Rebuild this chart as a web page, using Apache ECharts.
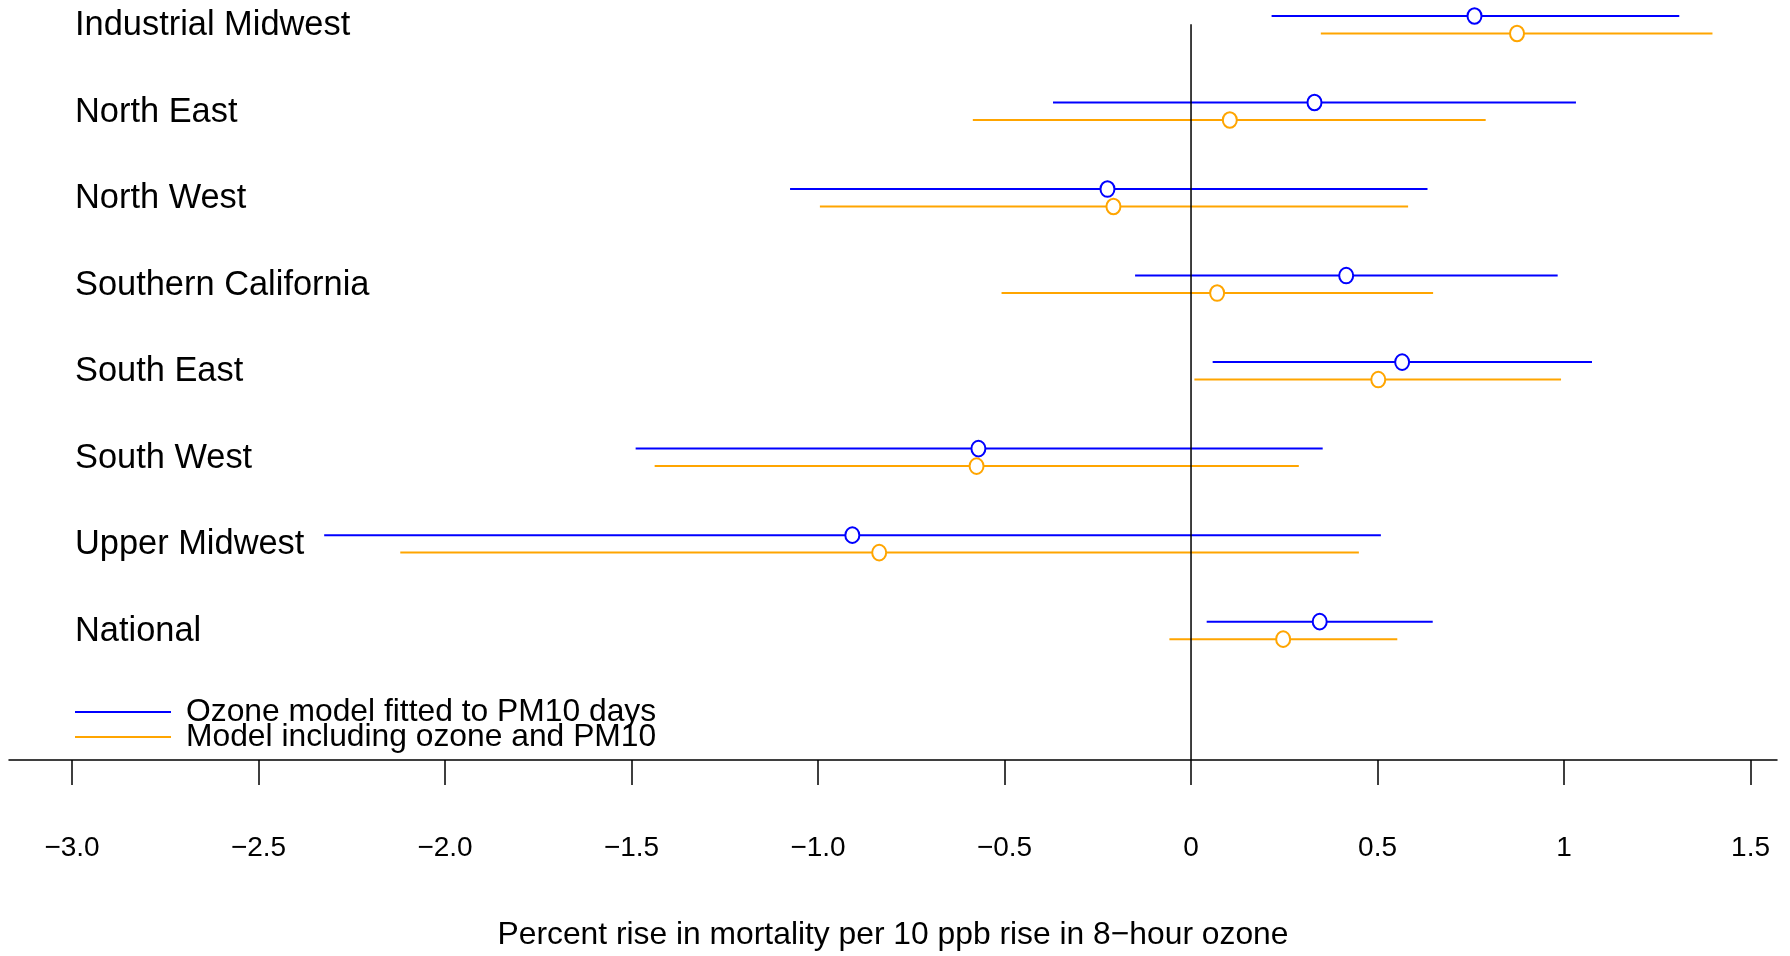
<!DOCTYPE html>
<html><head><meta charset="utf-8">
<script src="https://cdn.jsdelivr.net/npm/echarts@6/dist/echarts.min.js"></script>
<style>html,body{margin:0;padding:0;background:#fff}#c{width:1790px;height:956px}</style>
</head><body><div id="c"></div>
<script>
// ---- data ----
const regions = ['Industrial Midwest','North East','North West','Southern California','South East','South West','Upper Midwest','National'];
const ozoneEst  = [0.760, 0.331, -0.224, 0.416, 0.566, -0.570, -0.908, 0.345];
const ozoneLow  = [0.216, -0.370, -1.075, -0.150, 0.058, -1.489, -2.324, 0.042];
const ozoneHigh = [1.309, 1.032, 0.634, 0.983, 1.075, 0.353, 0.509, 0.648];
const pmEst  = [0.874, 0.104, -0.208, 0.070, 0.502, -0.575, -0.836, 0.247];
const pmLow  = [0.348, -0.585, -0.995, -0.508, 0.009, -1.438, -2.120, -0.058];
const pmHigh = [1.398, 0.790, 0.582, 0.649, 0.992, 0.289, 0.450, 0.553];
const tickValues = [-3, -2.5, -2, -1.5, -1, -0.5, 0, 0.5, 1, 1.5];
const tickLabels = ['\u22123.0','\u22122.5','\u22122.0','\u22121.5','\u22121.0','\u22120.5','0','0.5','1','1.5'];
const seriesNames = ['Ozone model fitted to PM10 days', 'Model including ozone and PM10'];
const xTitle = 'Percent rise in mortality per 10 ppb rise in 8\u2212hour ozone';

// ---- layout / style ----
const FONT = "'Liberation Sans', Arial, Helvetica, sans-serif";
const colors = ['#0000FF', '#FFA500'];
const xMin = -3.169, xMax = 1.571;
const yMin = 0, yMax = 8.599;
const rowOffsets = [0, 0.202];
const labelOffset = 0.114;
const zeroTop = 0.095;

function errRender(color) {
  return function (params, api) {
    const y = api.value(3);
    const a = api.coord([api.value(0), y]);
    const b = api.coord([api.value(1), y]);
    const p = api.coord([api.value(2), y]);
    return {
      type: 'group',
      children: [
        { type: 'line', shape: { x1: a[0], y1: a[1], x2: b[0], y2: b[1] }, style: { stroke: color, lineWidth: 2 } },
        { type: 'ellipse', shape: { cx: p[0], cy: p[1], rx: 7, ry: 7.8 }, style: { fill: '#fff', stroke: color, lineWidth: 2 } }
      ]
    };
  };
}

const sets = [[ozoneLow, ozoneHigh, ozoneEst], [pmLow, pmHigh, pmEst]];
const modelSeries = sets.map((s, k) => ({
  name: seriesNames[k],
  type: 'custom',
  renderItem: errRender(colors[k]),
  itemStyle: { color: colors[k] },
  clip: false,
  silent: true,
  encode: { x: [0, 1, 2], y: 3 },
  data: regions.map((r, i) => [s[0][i], s[1][i], s[2][i], i + rowOffsets[k]])
}));

const chart = echarts.init(document.getElementById('c'), null, { renderer: 'canvas' });
chart.setOption({
  animation: false,
  backgroundColor: '#fff',
  grid: { left: 9, right: 13, top: 16, bottom: 191, containLabel: false },
  legend: {
    orient: 'vertical', left: 75, top: 696, padding: 0, itemGap: -7,
    itemWidth: 96, itemHeight: 2, icon: 'rect', selectedMode: false,
    textStyle: { fontSize: 31.8, fontFamily: FONT, color: '#000', lineHeight: 26, padding: [0, 0, 0, 10] },
    data: seriesNames.map((n, i) => ({ name: n, itemStyle: { color: colors[i] } }))
  },
  xAxis: {
    type: 'value', min: xMin, max: xMax, position: 'bottom',
    axisLine: { show: true, onZero: false, lineStyle: { color: '#000', width: 1.5 } },
    axisTick: { show: true, customValues: tickValues, length: 25, lineStyle: { color: '#000', width: 1.5 } },
    axisLabel: {
      customValues: tickValues,
      formatter: v => tickLabels[tickValues.findIndex(t => Math.abs(t - v) < 1e-9)],
      fontSize: 28, fontFamily: FONT, color: '#000', margin: 88, verticalAlign: 'middle'
    },
    splitLine: { show: false },
    name: xTitle, nameLocation: 'middle', nameGap: 175,
    nameTextStyle: { fontSize: 31.8, fontFamily: FONT, color: '#000', verticalAlign: 'middle' }
  },
  yAxis: { type: 'value', min: yMin, max: yMax, inverse: true, show: false, splitLine: { show: false } },
  series: [
    ...modelSeries,
    {
      name: 'zero', type: 'line', silent: true, symbol: 'none', z: 3,
      lineStyle: { color: '#000', width: 1.5 },
      data: [[0, zeroTop], [0, yMax]]
    },
    {
      name: 'labels', type: 'custom', silent: true, clip: false,
      renderItem: function (params, api) {
        const p = api.coord([xMin, api.value(0)]);
        return {
          type: 'text', x: p[0] + 66, y: p[1],
          style: { text: regions[params.dataIndex], fontSize: 34.4, fontFamily: FONT, fill: '#000', align: 'left', verticalAlign: 'middle' }
        };
      },
      encode: { y: 0 },
      data: regions.map((r, i) => [i + labelOffset])
    }
  ]
});
</script></body></html>
